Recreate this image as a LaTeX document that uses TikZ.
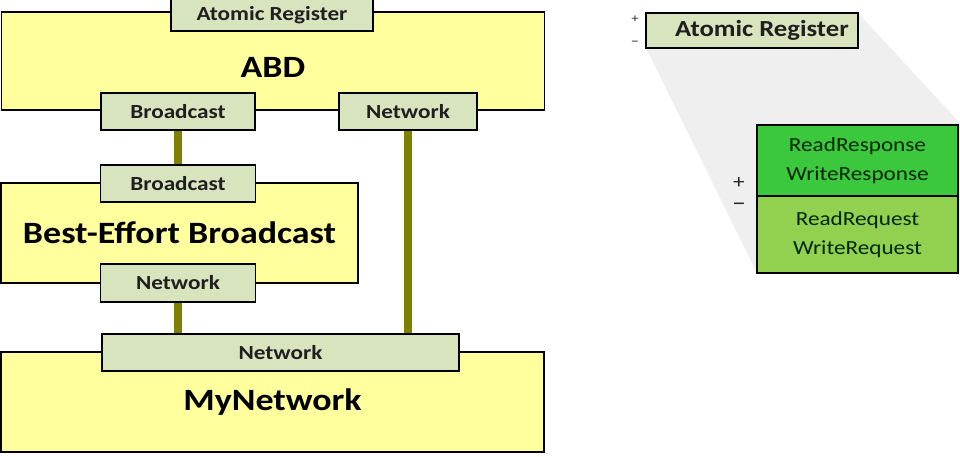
\documentclass[tikz,border=0pt]{standalone}
\usepackage{fontspec}
\setmainfont{Carlito}[FakeStretch=1.16]
\definecolor{modY}{HTML}{FFFF9E}
\definecolor{portG}{HTML}{D7E4BD}
\definecolor{wireC}{HTML}{7F7F00}
\definecolor{evTop}{HTML}{3CC83C}
\definecolor{evBot}{HTML}{92D050}
\definecolor{shadeG}{HTML}{EFEFEF}
\begin{document}
\begin{tikzpicture}[x=1pt,y=-1pt,
 module/.style={draw=black, line width=1.5pt, fill=modY, inner sep=0pt},
 port/.style={draw=black, line width=1.5pt, fill=portG, inner sep=0pt, font=\bfseries\fontsize{20}{22}\selectfont, text=black!88},
 title/.style={font=\bfseries\fontsize{31}{36}\selectfont, inner sep=0pt},
 wire/.style={draw=wireC, line width=7.5pt},
 evt/.style={draw=black, line width=1.5pt, inner sep=0pt, align=center, font=\fontsize{20}{29}\selectfont, text=black!85!green},
 sign/.style={inner sep=0pt, text=black!85}
]
\useasboundingbox (0,0) rectangle (960,456);

% left modules
\node[module, minimum width=543pt, minimum height=98pt] (abd) at (273,61) {};
\node[module, minimum width=357pt, minimum height=100pt] (beb) at (179.5,233) {};
\node[module, minimum width=543pt, minimum height=100pt] (mynet) at (272.5,402) {};

\node[title] (abdt) at (273,67) {ABD};
\node[title] (bebt) at (179.5,233) {Best-Effort Broadcast};
\node[title] (mynett) at (272.5,402) {MyNetwork};

% ports
\node[port, minimum width=154pt, minimum height=37pt] (abdbc) at (178,111.5) {Broadcast};
\node[port, minimum width=138pt, minimum height=37pt] (abdnet) at (408,111.5) {Network};
\node[port, minimum width=155pt, minimum height=37pt] (bebbc) at (178,183.5) {Broadcast};
\node[port, minimum width=155pt, minimum height=38pt] (bebnet) at (178,283) {Network};
\node[port, minimum width=357pt, minimum height=37pt] (mynetp) at (280.5,352.5) {Network};
\node[port, minimum width=202pt, minimum height=32pt, font=\bfseries\fontsize{20}{22}\selectfont] (abdar) at (272,15) {Atomic Register};

% wires
\draw[wire] (abdbc.south) -- (bebbc.north);
\draw[wire] (bebnet.south) -- (bebnet.south |- mynetp.north);
\draw[wire] (abdnet.south) -- (abdnet.south |- mynetp.north);

% right side
\fill[shadeG] (646,13) -- (858,13) -- (960,123) -- (960,273) -- (757,273) -- (646,48) -- cycle;
\node[port, minimum width=212pt, minimum height=35pt, font=\bfseries\fontsize{23}{24}\selectfont] (ar) at (752,30.5) {\hspace*{20pt}Atomic Register};
\node[sign, font=\fontsize{12}{14}\selectfont] (arp) at (635,19) {+};
\node[sign, font=\fontsize{14}{14}\selectfont] (arm) at (635,43) {–};

\node[evt, fill=evTop, minimum width=201pt, minimum height=71pt] (ind) at (857.5,160.5) {ReadResponse\\WriteResponse};
\node[evt, fill=evBot, minimum width=201pt, minimum height=77pt] (req) at (857.5,234.5) {ReadRequest\\WriteRequest};
\node[sign, font=\fontsize{20}{22}\selectfont] (indp) at (739,183) {+};
\node[sign, font=\fontsize{24}{22}\selectfont] (reqm) at (739,207) {–};
\end{tikzpicture}
\end{document}
